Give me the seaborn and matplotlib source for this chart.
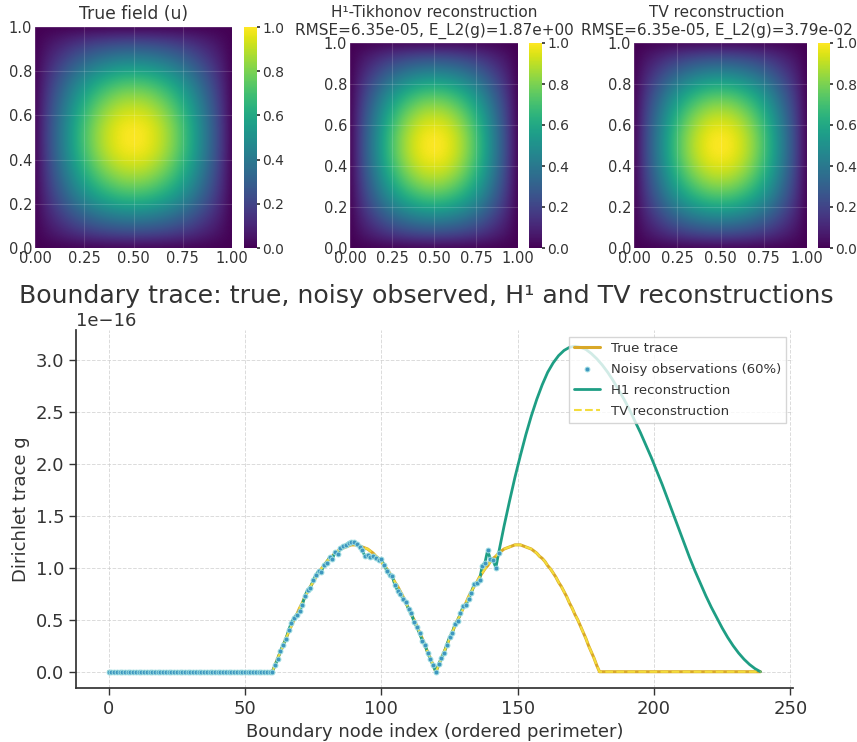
import numpy as np
import pandas as pd
import matplotlib
matplotlib.use("Agg")
import matplotlib.pyplot as plt
import seaborn as sns

# ---------------- data ----------------
# field profile read along one axis (value at x = 0, 0.05, ..., 1.0)
field_profile = [0.00, 0.16, 0.31, 0.45, 0.59, 0.71, 0.81, 0.89, 0.95, 0.99, 1.00,
                 0.99, 0.95, 0.89, 0.81, 0.71, 0.59, 0.45, 0.31, 0.16, 0.00]
field_titles = ["True field (u)",
                "H¹-Tikhonov reconstruction\nRMSE=6.35e-05, E_L2(g)=1.87e+00",
                "TV reconstruction\nRMSE=6.35e-05, E_L2(g)=3.79e-02"]
cbar_ticks = [0.0, 0.2, 0.4, 0.6, 0.8, 1.0]
field_xticks = [0.0, 0.25, 0.5, 0.75, 1.0]
field_yticks = [0.0, 0.2, 0.4, 0.6, 0.8, 1.0]

# boundary trace (units of 1e-16), nodes 60..119 and 120..179
hump_right = [0.00, 0.06, 0.13, 0.19, 0.25, 0.32, 0.38, 0.44, 0.50, 0.55,
              0.61, 0.66, 0.72, 0.77, 0.82, 0.86, 0.91, 0.95, 0.99, 1.02,
              1.06, 1.09, 1.11, 1.14, 1.16, 1.18, 1.19, 1.20, 1.21, 1.22,
              1.22, 1.22, 1.21, 1.20, 1.19, 1.18, 1.16, 1.14, 1.11, 1.09,
              1.06, 1.02, 0.99, 0.95, 0.91, 0.86, 0.82, 0.77, 0.72, 0.66,
              0.61, 0.55, 0.50, 0.44, 0.38, 0.32, 0.25, 0.19, 0.13, 0.06]
hump_top = [0.00, 0.06, 0.13, 0.19, 0.25, 0.32, 0.38, 0.44, 0.50, 0.55,
            0.61, 0.66, 0.72, 0.77, 0.82, 0.86, 0.91, 0.95, 0.99, 1.02,
            1.06, 1.09, 1.11, 1.14, 1.16, 1.18, 1.19, 1.20, 1.21, 1.22,
            1.22, 1.22, 1.21, 1.20, 1.19, 1.18, 1.16, 1.14, 1.11, 1.09,
            1.06, 1.02, 0.99, 0.95, 0.91, 0.86, 0.82, 0.77, 0.72, 0.66,
            0.61, 0.55, 0.50, 0.44, 0.38, 0.32, 0.25, 0.19, 0.13, 0.06]
true_trace = [0.0] * 60 + hump_right + hump_top + [0.0] * 60

# noisy observations on the first 60% of nodes (0..143)
obs_trace = [0.0] * 61 + [
    0.06, 0.12, 0.20, 0.26, 0.31, 0.40, 0.47, 0.52, 0.55,
    0.58, 0.64, 0.73, 0.79, 0.81, 0.88, 0.93, 0.97, 0.96, 1.03,
    1.05, 1.10, 1.08, 1.15, 1.13, 1.19, 1.21, 1.22, 1.24, 1.25,
    1.25, 1.23, 1.20, 1.17, 1.11, 1.12, 1.10, 1.11, 1.09, 1.07,
    1.08, 1.03, 0.97, 0.93, 0.92, 0.83, 0.78, 0.75, 0.70, 0.67,
    0.60, 0.56, 0.48, 0.43, 0.37, 0.30, 0.26, 0.18, 0.12, 0.06,
    0.00, 0.07, 0.13, 0.18, 0.26, 0.33, 0.37, 0.46, 0.49, 0.56,
    0.63, 0.64, 0.70, 0.76, 0.84, 0.85, 0.88, 1.02, 1.05, 1.17,
    1.08, 1.07, 1.00, 1.14]

# H1 reconstruction on unobserved nodes
h1_tail_idx = [145, 147, 149, 151, 153, 155, 157, 159, 161, 163, 165, 167, 169,
               171, 173, 175, 177, 179, 181, 183, 185, 187, 189, 191, 193, 195,
               197, 199, 201, 203, 205, 207, 209, 211, 213, 215, 217, 219, 221,
               223, 225, 227, 229, 231, 233, 235, 237, 239]
h1_tail_val = [1.40, 1.64, 1.87, 2.08, 2.28, 2.46, 2.62, 2.76, 2.88, 2.97, 3.04,
               3.09, 3.12, 3.13, 3.12, 3.10, 3.06, 3.01, 2.95, 2.88, 2.80, 2.71,
               2.62, 2.52, 2.41, 2.30, 2.18, 2.06, 1.93, 1.80, 1.66, 1.52, 1.38,
               1.24, 1.10, 0.97, 0.85, 0.73, 0.62, 0.52, 0.42, 0.33, 0.25, 0.18,
               0.12, 0.07, 0.03, 0.00]

SCALE = 1e-16

# ---------------- style ----------------
sns.set_theme(style="ticks")
plt.rcParams["font.family"] = ["DejaVu Sans"]
text_col = "#333333"
plt.rcParams.update({
    "text.color": text_col, "axes.labelcolor": text_col,
    "xtick.color": text_col, "ytick.color": text_col,
    "axes.edgecolor": "#333333",
})

W, H = 857, 742
fig = plt.figure(figsize=(W / 100, H / 100), dpi=100)

def fr(x0, y0, x1, y1):
    return [x0 / W, 1 - y1 / H, (x1 - x0) / W, (y1 - y0) / H]

Z = np.outer(np.array(field_profile), np.array(field_profile))
panels = [((35, 27, 232, 248), (244, 27, 257, 248)),
          ((350, 43, 518, 248), (529, 43, 542, 248)),
          ((634, 43, 807, 248), (818, 43, 830, 248))]
title_sizes = [12.3, 11.0, 11.0]
title_x = [0.5, 0.5, 0.48]
for (abox, cbox), title, tsz, tx in zip(panels, field_titles, title_sizes, title_x):
    ax = fig.add_axes(fr(*abox))
    im = ax.imshow(Z, extent=(-0.025, 1.025, -0.025, 1.025), origin="lower",
                   cmap="viridis", vmin=0, vmax=1, interpolation="bicubic",
                   aspect="auto")
    ax.set_xlim(0, 1)
    ax.set_ylim(0, 1)
    ax.set_xticks(field_xticks)
    ax.set_yticks(field_yticks)
    ax.grid(True, color="white", alpha=0.15, lw=0.8)
    ax.tick_params(length=0, pad=2, labelsize=10.5)
    for s in ax.spines.values():
        s.set_visible(False)
    ax.set_title(title, fontsize=tsz, pad=6, color=text_col, linespacing=1.2, x=tx)
    cax = fig.add_axes(fr(*cbox))
    cb = fig.colorbar(im, cax=cax, ticks=cbar_ticks)
    cb.outline.set_visible(False)
    cax.tick_params(labelsize=10, length=2, pad=2)

# ---------------- boundary trace ----------------
ax = fig.add_axes(fr(76, 330, 793, 688))
nodes = list(range(len(true_trace)))
obs_nodes = list(range(len(obs_trace)))
h1_x = obs_nodes + h1_tail_idx
h1_y = obs_trace + h1_tail_val

sns.lineplot(x=nodes, y=np.array(true_trace) * SCALE, ax=ax, color="#D9A828",
             lw=2.2, label="True trace")
sns.scatterplot(x=obs_nodes, y=np.array(obs_trace) * SCALE, ax=ax, color="#3E96BF",
                s=12, edgecolor="#9adbe0", linewidth=0.7, label="Noisy observations (60%)",
                zorder=3)
sns.lineplot(x=h1_x, y=np.array(h1_y) * SCALE, ax=ax, color="#1E9E84", lw=2.0,
             label="H1 reconstruction")
sns.lineplot(x=nodes, y=np.array(true_trace) * SCALE, ax=ax, color="#F3DC3C",
             lw=1.5, linestyle="--", label="TV reconstruction")

ax.set_xlim(-11.95, 250.95)
ax.set_xticks([0, 50, 100, 150, 200, 250])
ax.set_yticks(np.array([0.0, 0.5, 1.0, 1.5, 2.0, 2.5, 3.0]) * SCALE)
ax.grid(True, linestyle="--", color="#cccccc", lw=0.7, alpha=0.7)
sns.despine(ax=ax)
ax.tick_params(labelsize=13, length=5, width=1)
ax.yaxis.get_offset_text().set_fontsize(13)
ax.set_xlabel("Boundary node index (ordered perimeter)", fontsize=13)
ax.set_ylabel("Dirichlet trace g", fontsize=13)
ax.set_title("Boundary trace: true, noisy observed, H¹ and TV reconstructions",
             fontsize=18.2, color=text_col, x=0.489)
leg = ax.legend(loc="upper right", fontsize=9.5, frameon=True, framealpha=0.8,
                edgecolor="#cccccc", fancybox=False, borderaxespad=0.5,
                handlelength=2, labelspacing=0.6)
for t in leg.get_texts():
    t.set_color(text_col)

fig.savefig("out.png", dpi=100)
